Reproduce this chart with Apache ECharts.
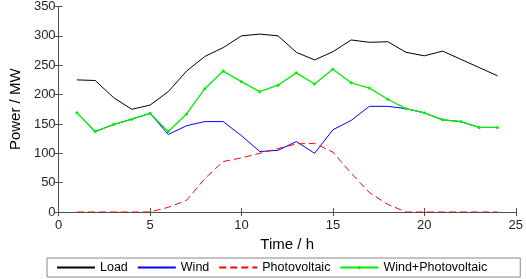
<!DOCTYPE html>
<html>
<head>
<meta charset="utf-8">
<script src="https://cdn.jsdelivr.net/npm/echarts@6/dist/echarts.min.js"></script>
<style>
  html, body { margin: 0; padding: 0; background: #fff; }
  #chart { width: 526px; height: 279px; }
</style>
</head>
<body>
<div id="chart"></div>
<script>
// hours 1..24
const hours = [1, 2, 3, 4, 5, 6, 7, 8, 9, 10, 11, 12, 13, 14, 15, 16, 17, 18, 19, 20, 21, 22, 23, 24]
const load = [225, 224, 195, 175, 182, 205, 240, 265, 280, 300, 303, 300, 272, 259, 273, 293, 289, 290, 272, 266, 274, 260, 246, 232]
const wind = [169, 137, 149, 158, 168, 132, 147, 154, 154, 130, 103, 105, 120, 100, 140, 156, 180, 180, 176, 169, 157, 154, 144, 144]
const pv = [0, 0, 0, 0, 0, 8, 20, 57, 86, 92, 100, 108, 116, 117, 102, 66, 33, 13, 0, 0, 0, 0, 0, 0]
const windPv = [169, 137, 149, 158, 168, 137, 167, 210, 240, 222, 205, 216, 237, 218, 243, 220, 211, 192, 176, 169, 157, 154, 144, 144]

const font = 'Arial, "Liberation Sans", sans-serif'
const axisColor = '#505050'
const green = '#00ee00'

function pairs(ys) {
  return hours.map((h, i) => [h, ys[i]])
}

const chart = echarts.init(document.getElementById('chart'))

const option = {
  animation: false,
  textStyle: { fontFamily: font },
  grid: { left: 45, right: 9, top: 5, bottom: 67 },
  legend: {
    left: 47,
    bottom: 2,
    padding: [3, 33, 3, 9],
    borderColor: '#888',
    borderWidth: 1,
    itemWidth: 38,
    itemHeight: 4,
    itemGap: 9,
    textStyle: { fontSize: 12.5, color: '#000', fontFamily: font },
    data: [
      { name: 'Load', itemStyle: { opacity: 0 } },
      { name: 'Wind', itemStyle: { opacity: 0 } },
      { name: 'Photovoltaic', itemStyle: { opacity: 0 } },
      { name: 'Wind+Photovoltaic' }
    ]
  },
  xAxis: [
    {
      type: 'value',
      min: 0,
      max: 25,
      interval: 5,
      name: 'Time / h',
      nameLocation: 'middle',
      nameGap: 22,
      nameTextStyle: { fontSize: 15, color: '#000' },
      axisLine: { show: true, lineStyle: { color: axisColor } },
      axisTick: { inside: true, length: 4, lineStyle: { color: axisColor } },
      axisLabel: { fontSize: 13, color: '#262626', margin: 7 },
      splitLine: { show: false }
    },
    {
      type: 'value',
      position: 'top',
      min: 0,
      max: 25,
      interval: 5,
      axisLine: { show: true, lineStyle: { color: axisColor } },
      axisTick: { inside: true, length: 4, lineStyle: { color: axisColor } },
      axisLabel: { show: false },
      splitLine: { show: false }
    }
  ],
  yAxis: [
    {
      type: 'value',
      min: 0,
      max: 350,
      interval: 50,
      name: 'Power / MW',
      nameLocation: 'middle',
      nameGap: 35,
      nameTextStyle: { fontSize: 15, color: '#000' },
      axisLine: { show: true, lineStyle: { color: axisColor } },
      axisTick: { show: true, inside: true, length: 4, lineStyle: { color: axisColor } },
      axisLabel: { fontSize: 13, color: '#262626', margin: 3 },
      splitLine: { show: false }
    },
    {
      type: 'value',
      position: 'right',
      min: 0,
      max: 350,
      interval: 50,
      axisLine: { show: true, lineStyle: { color: axisColor } },
      axisTick: { show: true, inside: true, length: 4, lineStyle: { color: axisColor } },
      axisLabel: { show: false },
      splitLine: { show: false }
    }
  ],
  series: [
    {
      name: 'Load',
      type: 'line',
      data: pairs(load),
      symbol: 'none',
      lineStyle: { color: '#000', width: 1 },
      itemStyle: { color: '#000' }
    },
    {
      name: 'Wind',
      type: 'line',
      data: pairs(wind),
      symbol: 'none',
      lineStyle: { color: '#0000ff', width: 1 },
      itemStyle: { color: '#0000ff' }
    },
    {
      name: 'Photovoltaic',
      type: 'line',
      data: pairs(pv),
      symbol: 'none',
      lineStyle: { color: '#ff0000', width: 1, type: [7, 4] },
      itemStyle: { color: '#ff0000' }
    },
    {
      name: 'Wind+Photovoltaic',
      type: 'line',
      data: pairs(windPv),
      symbol: 'circle',
      symbolSize: 3,
      lineStyle: { color: green, width: 1.3 },
      itemStyle: { color: green }
    }
  ]
}

chart.setOption(option)
</script>
</body>
</html>
